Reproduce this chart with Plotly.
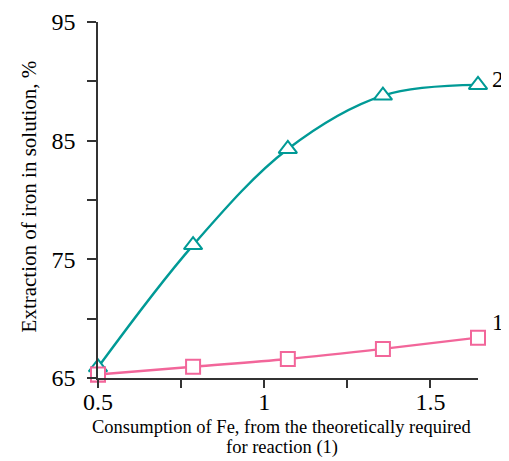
import plotly.graph_objects as go

# Data
x_vals = [0.5, 0.786, 1.071, 1.357, 1.643]
series1 = [65.3, 65.95, 66.6, 67.45, 68.4]   # curve 1, squares
series2 = [65.9, 76.2, 84.3, 88.8, 89.7]     # curve 2, triangles
series_names = ["1", "2"]

y_tickvals = [65, 70, 75, 80, 85, 90, 95]
y_ticktext = ["65", "", "75", "", "85", "", "95"]
x_tickvals = [0.5, 0.75, 1.0, 1.25, 1.5]
x_ticktext = ["0.5", "", "1", "", "1.5"]

x_title_lines = ["Consumption of Fe, from the theoretically required", "for reaction (1)"]
y_title = "Extraction of iron in solution, %"

pink = "#f2669a"
teal = "#009a96"
axis_col = "#333333"
font_fam = "Liberation Serif, Times New Roman, serif"

fig = go.Figure()
fig.add_trace(go.Scatter(
    x=x_vals, y=series1, mode="lines+markers", name=series_names[0],
    line=dict(color=pink, width=2.4, shape="spline"),
    marker=dict(symbol="square", size=14, color="white",
                line=dict(color=pink, width=2)),
    cliponaxis=False,
))
fig.add_trace(go.Scatter(
    x=x_vals, y=series2, mode="lines+markers", name=series_names[1],
    line=dict(color=teal, width=2.4, shape="spline"),
    marker=dict(symbol="triangle-up", size=16, color="white",
                line=dict(color=teal, width=2)),
    cliponaxis=False,
))
# re-draw first pink marker on top so the square covers the triangle
fig.add_trace(go.Scatter(
    x=x_vals[:1], y=series1[:1], mode="markers", showlegend=False,
    marker=dict(symbol="square", size=14, color="white",
                line=dict(color=pink, width=2)),
    cliponaxis=False,
))

fig.add_annotation(x=x_vals[-1], y=series1[-1], text=series_names[0],
                   showarrow=False, xshift=20, yshift=15,
                   font=dict(family=font_fam, size=23, color="black"))
fig.add_annotation(x=x_vals[-1], y=series2[-1], text=series_names[1],
                   showarrow=False, xshift=20, yshift=5,
                   font=dict(family=font_fam, size=23, color="black"))

# axis titles as annotations for exact placement
fig.add_annotation(xref="paper", yref="paper", x=0.484, y=-0.1368,
                   text=x_title_lines[0], showarrow=False,
                   xanchor="center", yanchor="middle",
                   font=dict(family=font_fam, size=18.5, color="black"))
fig.add_annotation(xref="paper", yref="paper", x=0.484, y=-0.1966,
                   text=x_title_lines[1], showarrow=False,
                   xanchor="center", yanchor="middle",
                   font=dict(family=font_fam, size=18.5, color="black"))
fig.add_annotation(xref="paper", yref="paper", x=-0.1816, y=0.51,
                   text=y_title, showarrow=False, textangle=-90,
                   xanchor="center", yanchor="middle",
                   font=dict(family=font_fam, size=21, color="black"))

fig.update_layout(
    width=501, height=453,
    margin=dict(l=90, r=31, t=14, b=83),
    paper_bgcolor="white", plot_bgcolor="white",
    showlegend=False,
    font=dict(family=font_fam, color="black"),
    xaxis=dict(
        range=[0.5, 1.643], showgrid=False, zeroline=False, automargin=False,
        showline=True, linecolor=axis_col, linewidth=1.5,
        ticks="outside", ticklen=8, tickwidth=1.5, tickcolor=axis_col,
        tickvals=x_tickvals, ticktext=x_ticktext,
        tickfont=dict(family=font_fam, size=24, color="black"),
        ticklabelstandoff=-7,
    ),
    yaxis=dict(
        range=[65, 95], showgrid=False, zeroline=False, automargin=False,
        showline=True, linecolor=axis_col, linewidth=1.5,
        ticks="outside", ticklen=9, tickwidth=1.5, tickcolor=axis_col,
        tickvals=y_tickvals, ticktext=y_ticktext,
        tickfont=dict(family=font_fam, size=24, color="black"),
        ticklabelstandoff=7,
    ),
)

fig.write_html("out.html")
